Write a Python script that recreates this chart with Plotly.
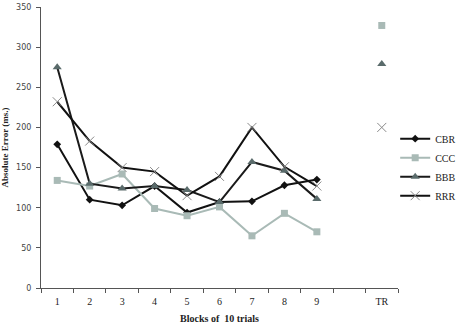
import plotly.graph_objects as go

categories = ["1", "2", "3", "4", "5", "6", "7", "8", "9", " ", "TR"]
cbr = [179, 110, 103, 127, 94, 107, 108, 128, 135, None, None]
ccc = [134, 127, 142, 99, 90, 101, 65, 93, 70, None, 327]
bbb = [275, 130, 124, 127, 122, 107, 157, 146, 111, None, 279]
rrr = [232, 183, 150, 145, 115, 139, 200, 151, 127, None, 200]
y_ticks = [0, 50, 100, 150, 200, 250, 300, 350]

fig = go.Figure()
fig.add_trace(go.Scatter(x=categories, y=cbr, name="CBR", mode="lines+markers",
                         line=dict(color="#111111", width=2),
                         marker=dict(symbol="diamond", size=6, color="#111111")))
fig.add_trace(go.Scatter(x=categories, y=ccc, name="CCC", mode="lines+markers",
                         line=dict(color="#a9bab6", width=2),
                         marker=dict(symbol="square", size=7, color="#a9bab6")))
fig.add_trace(go.Scatter(x=categories, y=bbb, name="BBB", mode="lines+markers",
                         line=dict(color="#1a1a1a", width=2),
                         marker=dict(symbol="triangle-up", size=8, color="#5a6b6b")))
fig.add_trace(go.Scatter(x=categories, y=rrr, name="RRR", mode="lines+markers",
                         line=dict(color="#111111", width=2),
                         marker=dict(symbol="x-thin", size=9,
                                     line=dict(color="#8a8a8a", width=1), color="#8a8a8a")))

fig.update_layout(
    width=468, height=324,
    margin=dict(l=41, r=64, t=7, b=36),
    paper_bgcolor="white", plot_bgcolor="white",
    font=dict(family="Liberation Serif", size=9, color="#222222"),
    showlegend=True,
    legend=dict(x=1.177, y=0.43, xanchor="right", yanchor="middle",
                font=dict(family="Liberation Serif", size=10, color="#222222"),
                tracegroupgap=0, itemwidth=30, borderwidth=0,
                bgcolor="rgba(0,0,0,0)"),
    xaxis=dict(type="category", categoryorder="array", categoryarray=categories,
               range=[-0.5, 10.5], showgrid=False, showline=True, automargin=False,
               linecolor="#555555", linewidth=1, ticks="outside", tickson="boundaries",
               ticklen=4, tickcolor="#555555", ticklabelstandoff=4,
               tickfont=dict(family="Liberation Serif", size=10, color="#222222"),
               title=dict(text="<b>Blocks of  10 trials</b>", standoff=16,
                          font=dict(family="Liberation Serif", size=10))),
    yaxis=dict(range=[0, 350], tickvals=y_ticks, showgrid=False, showline=True,
               automargin=False,
               linecolor="#555555", linewidth=1, ticks="outside", ticklen=4,
               tickcolor="#555555", zeroline=False, ticklabelstandoff=3,
               tickfont=dict(family="DejaVu Sans", size=8, color="#444444"),
               title=dict(text="<b>Absolute Error (ms.)</b>", standoff=5,
                          font=dict(family="Liberation Serif", size=9))),
)

fig.write_html("out.html")
